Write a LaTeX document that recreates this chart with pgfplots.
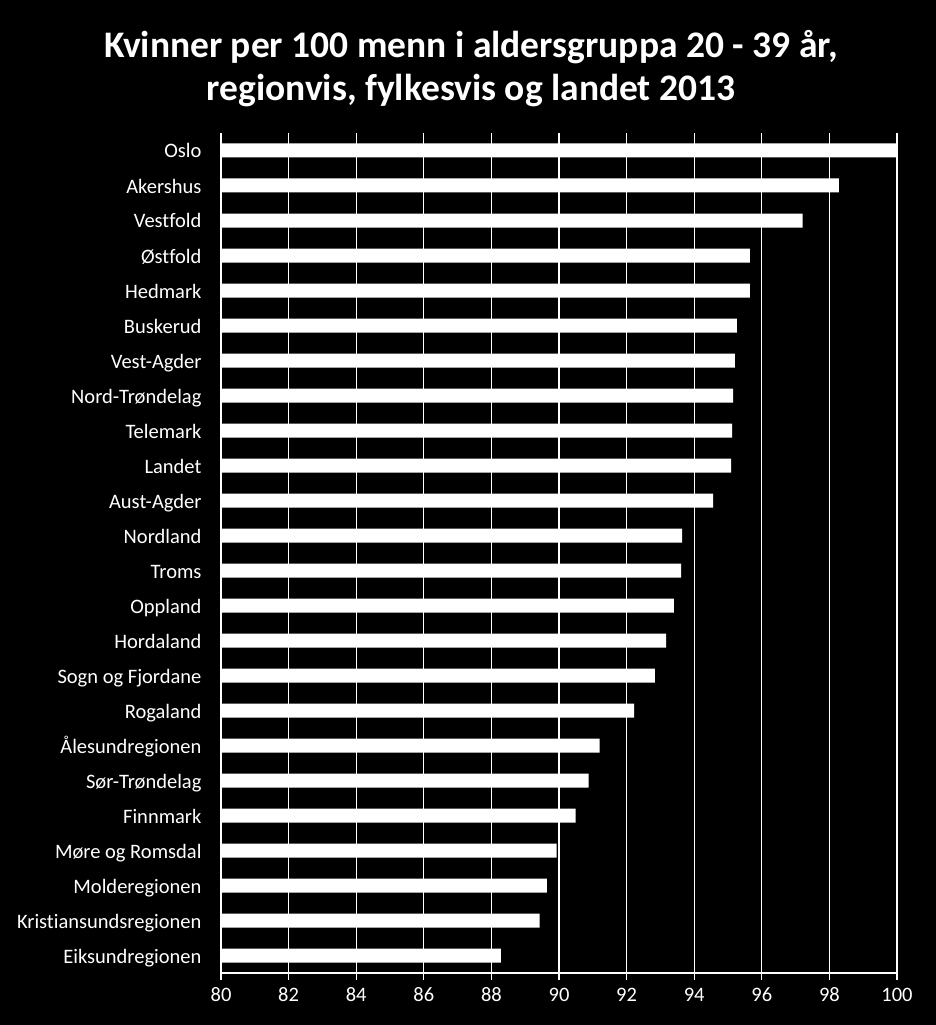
\documentclass[border=0pt]{standalone}
\usepackage{pgfplots}
\pgfplotsset{compat=1.18}
\usepackage{fontspec}
\setmainfont{Carlito}[Ligatures=CommonOff]
\begin{document}
\begin{tikzpicture}[x=1pt,y=1pt]
\fill[black] (0,0) rectangle (936,1025);
\node[text=white, font=\fontsize{37.5}{43}\selectfont\bfseries, align=center] at (471,956)
  {Kvinner per 100 menn i aldersgruppa 20 - 39 år,\\regionvis, fylkesvis og landet 2013};
\begin{axis}[
  at={(221pt,52pt)}, anchor=south west,
  scale only axis, width=676pt, height=840pt,
  xbar, bar width=14pt,
  xmin=80, xmax=100, xtick={80,82,...,100},
  ymin=-0.5, ymax=23.5, y dir=reverse,
  ytick={0,...,23},
  yticklabels={Oslo,Akershus,Vestfold,Østfold,Hedmark,Buskerud,Vest-Agder,Nord-Trøndelag,Telemark,Landet,Aust-Agder,Nordland,Troms,Oppland,Hordaland,Sogn og Fjordane,Rogaland,Ålesundregionen,Sør-Trøndelag,Finnmark,Møre og Romsdal,Molderegionen,Kristiansundsregionen,Eiksundregionen},
  typeset ticklabels with strut,
  minor ytick={-0.5,0.5,...,23.5},
  axis x line*=bottom, axis y line*=left,
  axis line style={white, line width=1.3pt},
  xmajorgrids, grid style={white, line width=1.3pt},
  tick align=outside,
  major tick length=7pt, minor tick length=7pt,
  ytick style={draw=none},
  minor y tick style={white, line width=1.3pt},
  xtick style={white, line width=1.3pt},
  ticklabel style={text=white, font=\fontsize{20.5}{25}\selectfont},
  yticklabel style={xshift=-9pt, yshift=-2.5pt},
  xticklabel style={yshift=0pt},
  /pgf/number format/assume math mode=true,
  clip=false,
]
\addplot[fill=white, draw=none] coordinates {
(100.00,0) (98.28,1) (97.21,2) (95.65,3) (95.65,4) (95.26,5) (95.20,6) (95.15,7)
(95.12,8) (95.09,9) (94.56,10) (93.64,11) (93.61,12) (93.40,13) (93.17,14) (92.84,15)
(92.22,16) (91.20,17) (90.88,18) (90.49,19) (89.93,20) (89.64,21) (89.43,22) (88.28,23)
};
\end{axis}
\end{tikzpicture}
\end{document}
